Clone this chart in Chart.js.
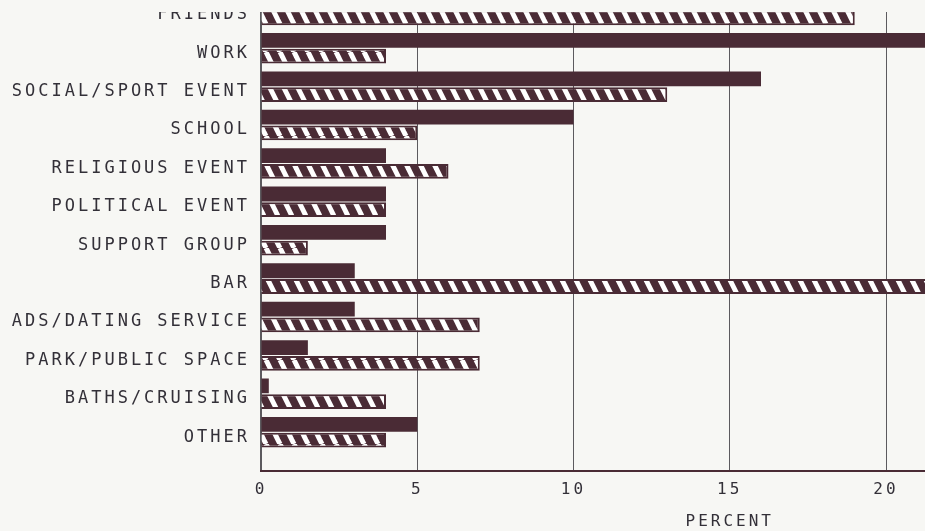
<!DOCTYPE html>
<html>
<head>
<meta charset="utf-8">
<script src="https://cdn.jsdelivr.net/npm/chart.js@4.4.0/dist/chart.umd.min.js"></script>
<style>
html, body { margin: 0; padding: 0; background: #f7f7f4; overflow: hidden; width: 925px; height: 531px; }
/* the scan is cropped: the top strip and the right part of the chart are missing */
#clip { position: absolute; left: 0; top: 12px; width: 925px; height: 519px; overflow: hidden; }
#wrap { position: absolute; left: 0; top: -72px; width: 1230px; height: 600px; }
</style>
</head>
<body>
<div id="clip"><div id="wrap"><canvas id="myChart"></canvas></div></div>
<script>
// data (FRIENDS solid bar and the longest bars are hidden by the crop, so estimated)
const categories = ['FRIENDS', 'WORK', 'SOCIAL/SPORT EVENT', 'SCHOOL', 'RELIGIOUS EVENT', 'POLITICAL EVENT',
	'SUPPORT GROUP', 'BAR', 'ADS/DATING SERVICE', 'PARK/PUBLIC SPACE', 'BATHS/CRUISING', 'OTHER'];
const solidValues = [17, 25, 16, 10, 4, 4, 4, 3, 3, 1.5, 0.25, 5];
const hatchedValues = [19, 4, 13, 5, 6, 4, 1.5, 24, 7, 7, 4, 4];
const xTicks = [0, 5, 10, 15, 20, 25, 30];
const xTitle = 'PERCENT';

const ink = '#4a2b35';
const textColor = '#333038';
const gridColor = '#5c5a5e';
const fontFamily = '"DejaVu Sans Mono", monospace';

function makeHatch() {
	const c = document.createElement('canvas');
	c.width = 14;
	c.height = 28;
	const g = c.getContext('2d');
	g.fillStyle = ink;
	g.fillRect(0, 0, 14, 28);
	g.strokeStyle = '#ffffff';
	g.lineWidth = 5;
	for (let x0 = -14; x0 <= 14; x0 += 14) {
		g.beginPath();
		g.moveTo(x0, 0);
		g.lineTo(x0 + 14, 28);
		g.stroke();
	}
	return g.createPattern(c, 'repeat');
}

// wide plotter-like lettering
const spacingPlugin = {
	id: 'spacing',
	beforeDraw(chart) {
		chart.ctx.letterSpacing = '3px';
	}
};

const data = {
	datasets: [{
		label: 'solid',
		data: categories.map((c, i) => ({ x: solidValues[i], y: i })),
		backgroundColor: ink,
		borderWidth: 0,
		categoryPercentage: 0.82,
		barPercentage: 0.94
	}, {
		label: 'hatched',
		data: categories.map((c, i) => ({ x: hatchedValues[i], y: i })),
		backgroundColor: makeHatch(),
		borderColor: ink,
		borderWidth: 2,
		categoryPercentage: 0.82,
		barPercentage: 0.94
	}]
};

const config = {
	type: 'bar',
	data: data,
	plugins: [spacingPlugin],
	options: {
		indexAxis: 'y',
		responsive: true,
		maintainAspectRatio: false,
		devicePixelRatio: 1,
		animation: false,
		layout: { padding: { top: 31.5, right: 31.5, left: 0, bottom: 0 } },
		plugins: {
			legend: { display: false },
			tooltip: { enabled: false }
		},
		scales: {
			y: {
				type: 'linear',
				offset: false,
				reverse: true,
				min: -1,
				max: 12,
				afterBuildTicks: s => { s.ticks = categories.map((c, i) => ({ value: i })); },
				afterFit: s => { s.width = 261; },
				grid: { display: false, drawTicks: false, offset: false },
				border: { display: true, color: gridColor, width: 1.5 },
				ticks: {
					autoSkip: false,
					callback: v => categories[v],
					padding: 11,
					labelOffset: 5,
					color: textColor,
					font: { family: fontFamily, size: 17 }
				}
			},
			x: {
				min: 0,
				max: 30,
				afterBuildTicks: s => { s.ticks = xTicks.map(v => ({ value: v })); },
				grid: { color: gridColor, lineWidth: 1, drawTicks: false },
				border: { color: ink, width: 2 },
				ticks: {
					padding: 10,
					color: textColor,
					font: { family: fontFamily, size: 16 }
				},
				title: {
					display: true,
					text: xTitle,
					color: textColor,
					font: { family: fontFamily, size: 16 },
					padding: { top: 2, bottom: 9 }
				}
			}
		}
	}
};

new Chart(document.getElementById('myChart').getContext('2d'), config);
</script>
</body>
</html>
